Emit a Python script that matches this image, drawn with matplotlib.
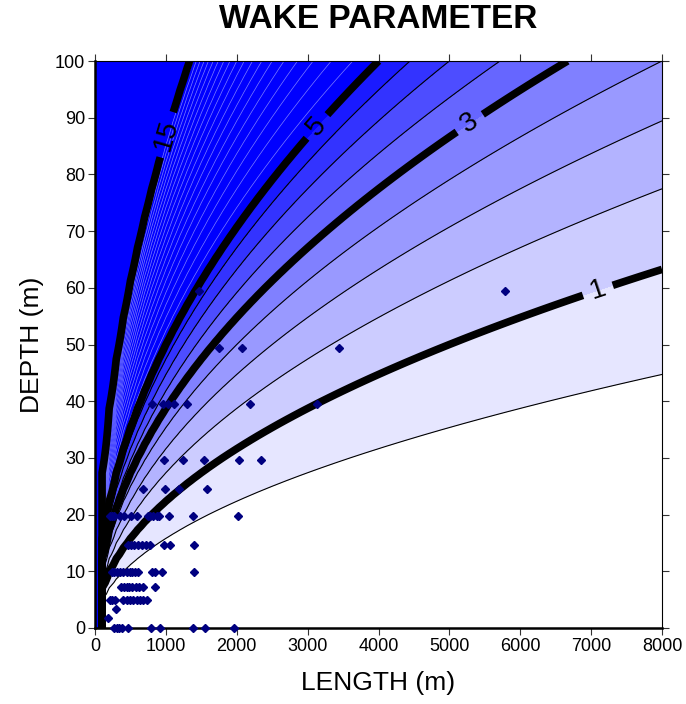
import numpy as np
import matplotlib
matplotlib.use("Agg")
import matplotlib.pyplot as plt

# ---- data -------------------------------------------------------------
# wake parameter W = 2 * depth^2 / length, evaluated on a coarse grid
length_grid = np.arange(0, 8001, 100.0)
depth_grid = np.arange(0, 100.01, 1.0)

fill_levels = [0, 0.5, 1, 1.5, 2, 2.5, 3, 3.5, 4, 4.5, 5, 1e9]
fill_colors = ['#ffffff', '#e6e6ff', '#ccccff', '#b3b3ff', '#9999ff', '#8080ff',
               '#6666ff', '#4d4dff', '#3333ff', '#1a1aff', '#0000ff']
thin_black_levels = [0.5, 1.5, 2, 2.5, 3.5, 4, 4.5]
thin_light_levels = [5.5, 6, 6.5, 7, 7.5, 8, 8.5, 9, 9.5, 10, 10.5, 11, 11.5,
                     12, 12.5, 13, 13.5, 14, 14.5]
major_levels = [1, 3, 5, 15]
label_positions = [(7083, 60), (5290, 89), (3128, 88.5), (1011, 87)]

# observed sites: (length m, depth m)
pts_length = [5785, 1467,
              1750, 2074, 3446,
              809, 955, 1026, 1114, 1298, 2187, 3128,
              978, 1242, 1533, 2032, 2347,
              673, 988, 1190, 1585,
              212, 244, 272, 353, 413, 508, 588, 743, 776, 823, 870, 903, 1044, 1387, 2022,
              470, 508, 550, 603, 659, 715, 776, 978, 1058, 1401,
              236, 268, 306, 353, 399, 447, 494, 526, 564, 611, 808, 847, 941, 1401,
              367, 413, 447, 484, 526, 574, 625, 682, 847,
              212, 244, 282, 399, 447, 494, 540, 588, 635, 682, 738,
              296,
              188,
              272, 306, 339, 385, 461, 790, 917, 1376, 1548, 1961]
pts_depth = [59.4, 59.5,
             49.4, 49.4, 49.4,
             39.5, 39.5, 39.5, 39.5, 39.5, 39.5, 39.5,
             29.6, 29.6, 29.6, 29.6, 29.6,
             24.6, 24.6, 24.6, 24.6,
             19.7, 19.7, 19.7, 19.7, 19.7, 19.7, 19.7, 19.7, 19.7, 19.7, 19.7, 19.7, 19.7, 19.7, 19.7,
             14.7, 14.7, 14.7, 14.7, 14.7, 14.7, 14.7, 14.7, 14.7, 14.7,
             9.8, 9.8, 9.8, 9.8, 9.8, 9.8, 9.8, 9.8, 9.8, 9.8, 9.8, 9.8, 9.8, 9.8,
             7.3, 7.3, 7.3, 7.3, 7.3, 7.3, 7.3, 7.3, 7.3,
             4.9, 4.9, 4.9, 4.9, 4.9, 4.9, 4.9, 4.9, 4.9, 4.9, 4.9,
             3.3,
             1.8,
             0, 0, 0, 0, 0, 0, 0, 0, 0, 0]

x_ticks = list(range(0, 8001, 1000))
y_ticks = list(range(0, 101, 10))

# ---- compute field ----------------------------------------------------
LL, DD = np.meshgrid(length_grid, depth_grid)
with np.errstate(divide='ignore', invalid='ignore'):
    W = 2.0 * DD ** 2 / LL
W[:, 0] = 1e4
W = np.nan_to_num(W, nan=1e4, posinf=1e4)

# ---- figure -----------------------------------------------------------
plt.rcParams['font.family'] = ['Liberation Sans', 'DejaVu Sans']
fig = plt.figure(figsize=(6.86, 7.04), dpi=100)
ax = fig.add_axes([95 / 686, 1 - 628 / 704, 567 / 686, 567 / 704])

ax.contourf(LL, DD, W, levels=fill_levels, colors=fill_colors)
ax.contour(LL, DD, W, levels=thin_black_levels, colors='black', linewidths=0.8)
ax.contour(LL, DD, W, levels=thin_light_levels, colors='#7d7dff', linewidths=0.5)
cs = ax.contour(LL, DD, W, levels=major_levels, colors='black', linewidths=5.5)
ax.clabel(cs, fmt='%g', fontsize=20, inline=True, inline_spacing=8,
          manual=label_positions)

ax.plot(pts_length, pts_depth, linestyle='none', marker='D', markersize=3.6,
        color='#000080', zorder=5, clip_on=False)

ax.set_xlim(0, 8000)
ax.set_ylim(0, 100)
ax.set_xticks(x_ticks)
ax.set_yticks(y_ticks)
ax.tick_params(direction='out', length=5, width=0.8, color='#333333',
               top=True, right=True, labelsize=13, pad=2)
for side in ['bottom', 'left']:
    ax.spines[side].set_linewidth(1.8)
for side in ['top', 'right']:
    ax.spines[side].set_linewidth(0.8)

ax.set_xlabel('LENGTH (m)', fontsize=19, labelpad=12)
ax.set_ylabel('DEPTH (m)', fontsize=19, labelpad=8)
fig.text(378 / 686, 1 - 20 / 704, 'WAKE PARAMETER', ha='center', va='center',
         fontsize=24, fontweight='bold')

fig.savefig('out.png', dpi=100)
